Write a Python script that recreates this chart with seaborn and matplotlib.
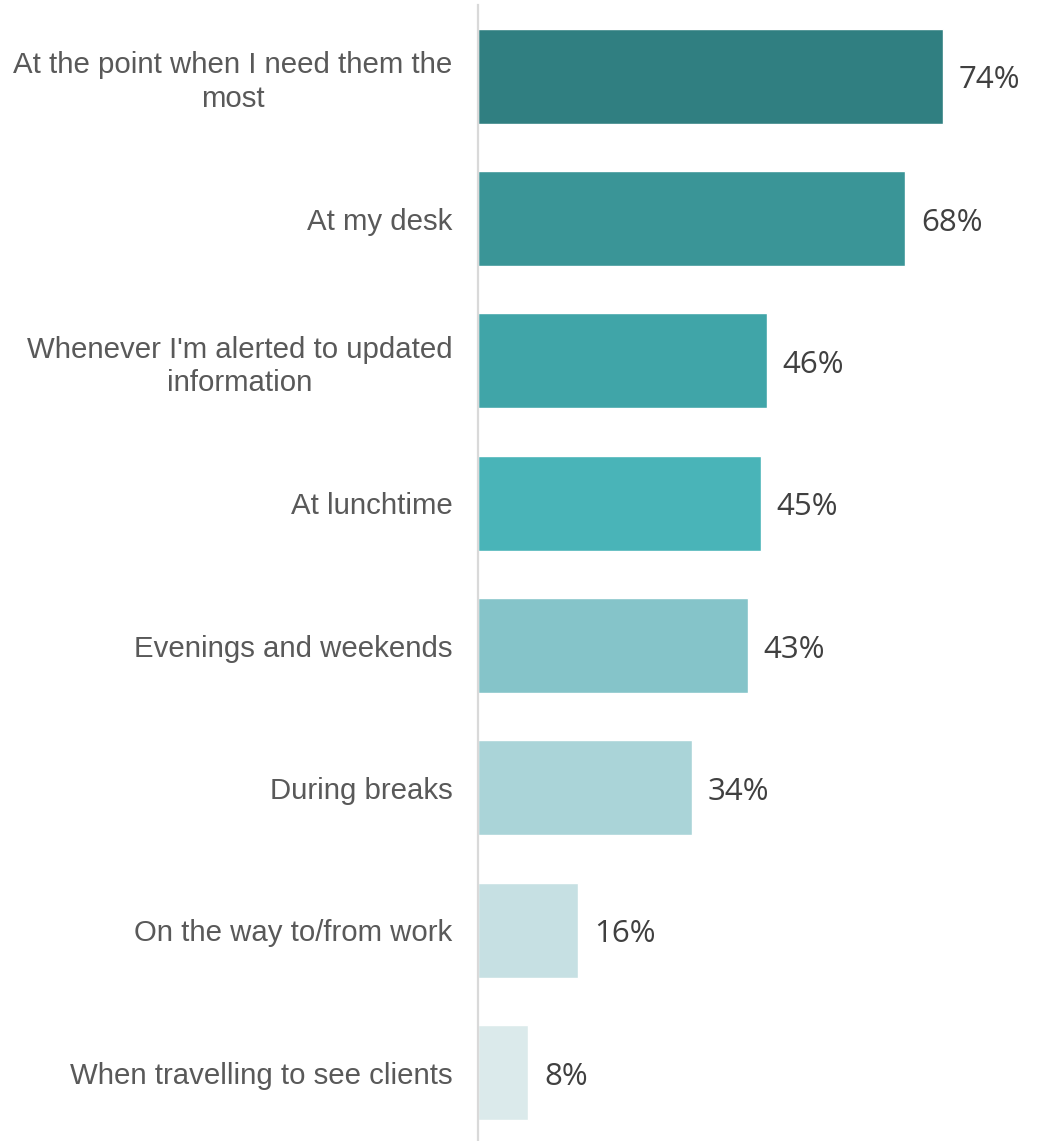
import matplotlib
matplotlib.use("Agg")
import matplotlib.pyplot as plt
import seaborn as sns
import pandas as pd

categories = [
    "At the point when I need them the\nmost",
    "At my desk",
    "Whenever I'm alerted to updated\ninformation",
    "At lunchtime",
    "Evenings and weekends",
    "During breaks",
    "On the way to/from work",
    "When travelling to see clients",
]
values = [74, 68, 46, 45, 43, 34, 16, 8]
colors = ["#307f81", "#3a9597", "#40a5a8", "#49b4b8",
          "#85c4c9", "#aad4d8", "#c6e0e3", "#dbeaeb"]

sns.set_theme(style="white")
plt.rcParams["font.family"] = ["Liberation Sans", "DejaVu Sans"]

df = pd.DataFrame({"category": categories, "value": values})

fig = plt.figure(figsize=(10.37, 11.41), dpi=100)
ax = fig.add_axes([478 / 1037, -0.0024, 1 - 478 / 1037, 0.998])

sns.barplot(data=df, x="value", y="category", hue="category",
            palette=colors, orient="h", width=0.667, dodge=False,
            legend=False, saturation=1, ax=ax)

ax.set_xlim(0, 89)
ax.set_ylim(7.5, -0.5)
ax.set_xlabel("")
ax.set_ylabel("")
ax.set_xticks([])
for s in ["top", "right", "bottom"]:
    ax.spines[s].set_visible(False)
ax.spines["left"].set_color("#d9d9d9")
ax.spines["left"].set_linewidth(1.6)

ax.set_yticks(range(len(categories)))
ax.set_yticklabels(categories, fontsize=21.2, color="#595959",
                   multialignment="center", linespacing=1.25)
ax.tick_params(axis="y", length=0, pad=18.5)

for i, v in enumerate(values):
    ax.text(v + 2.5, i + 0.03, f"{v}%", va="center", ha="left",
            fontsize=22.5, color="#404040", family="Open Sans")

fig.savefig("out.png", dpi=100, facecolor="white")
